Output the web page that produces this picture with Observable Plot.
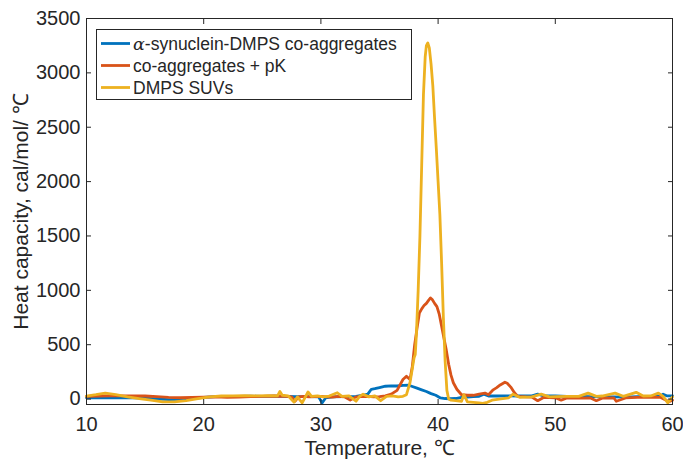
<!DOCTYPE html>
<html>
<head>
<meta charset="utf-8">
<script src="https://cdn.jsdelivr.net/npm/d3@7"></script>
<script src="https://cdn.jsdelivr.net/npm/@observablehq/plot@0.6"></script>
<style>
  html, body { margin: 0; padding: 0; background: #fff; }
  #chart { width: 683px; height: 460px; }
</style>
</head>
<body>
<div id="chart"></div>
<script>
// ---- data ----
const seriesNames = ["\u03b1-synuclein-DMPS co-aggregates", "co-aggregates + pK", "DMPS SUVs"];
const seriesColors = ["#0072BD", "#D95319", "#EDB120"];

const xTicks = [10, 20, 30, 40, 50, 60];
const yTicks = [0, 500, 1000, 1500, 2000, 2500, 3000, 3500];

// alpha-synuclein-DMPS co-aggregates
const blueT = [10, 11, 12, 13, 14, 15, 16, 17, 18, 19, 20, 21, 22, 23, 24, 25, 26, 27, 28, 29, 29.8, 30.1, 30.4, 31, 32, 33, 33.6, 34.0, 34.3, 34.6, 35.0, 35.5, 36, 36.5, 37, 37.5, 37.8, 38.2, 38.6, 39.0, 39.4, 39.8, 40.2, 40.6, 41.0, 41.5, 42.0, 42.5, 43, 43.5, 43.9, 44.3, 45, 46, 47, 48, 48.5, 49, 50, 51, 52, 53, 54, 55, 56, 57, 58, 59, 59.2, 59.5, 60];
const blueCp = [12, 12, 12, 14, 12, 8, 2, -5, -3, 5, 15, 22, 25, 25, 26, 25, 27, 25, 23, 22, 20, -35, 10, 20, 22, 25, 35, 45, 90, 95, 105, 118, 122, 120, 125, 127, 115, 100, 85, 70, 50, 35, 10, 5, 3, 5, 15, 18, 22, 25, 45, 28, 28, 30, 28, 30, 45, 30, 28, 25, 25, 22, 20, 20, 18, 22, 25, 30, 45, 30, 30];

// co-aggregates + pK
const redT = [10, 11, 12, 13, 14, 15, 16, 17, 18, 19, 20, 21, 22, 23, 24, 25, 26, 27, 27.5, 27.8, 28.1, 28.5, 29, 29.5, 30, 30.5, 31, 31.5, 32, 32.5, 33, 33.5, 34, 34.5, 35, 35.5, 36, 36.5, 37.0, 37.3, 37.6, 37.8, 38.0, 38.2, 38.4, 38.6, 38.8, 39.0, 39.2, 39.35, 39.5, 39.7, 39.9, 40.1, 40.3, 40.5, 40.7, 40.9, 41.1, 41.3, 41.6, 42.0, 42.5, 43, 43.5, 44, 44.3, 44.7, 45.0, 45.3, 45.7, 45.9, 46.2, 46.5, 46.8, 47.5, 48, 48.5, 49, 50, 50.5, 51, 52, 53, 53.5, 54, 55, 55.2, 56, 57, 58, 59, 59.7, 60];
const redCp = [25, 28, 30, 30, 30, 28, 22, 15, 12, 15, 18, 20, 15, 18, 22, 25, 28, 25, 20, -20, 20, 25, 20, 22, 25, 20, 18, 25, 20, -10, 20, 22, 25, 20, 22, 30, 45, 80, 180, 210, 180, 300, 500, 650, 790, 830, 860, 880, 910, 930, 915, 880, 850, 780, 670, 560, 450, 320, 220, 150, 90, 40, 35, 35, 45, 55, 40, 85, 105, 130, 155, 145, 110, 60, 25, 20, 18, -15, 15, 12, -10, 10, 8, 10, -15, 8, 10, -20, 10, 15, 18, 15, -25, -10];

// DMPS SUVs
const yellowT = [10, 10.8, 11.6, 12.5, 13.5, 14.5, 15.5, 16.5, 17.5, 18.5, 19.5, 20.5, 21.5, 22.5, 23.5, 24.5, 25.5, 26.3, 26.5, 26.7, 27.2, 27.7, 28.0, 28.4, 28.9, 29.2, 29.7, 30.2, 30.7, 31.4, 31.8, 32.4, 33.0, 33.3, 33.6, 34.1, 34.6, 35.1, 35.6, 36.1, 36.6, 37.0, 37.3, 37.6, 37.8, 37.95, 38.05, 38.15, 38.3, 38.45, 38.6, 38.75, 38.9, 39.0, 39.12, 39.25, 39.4, 39.55, 39.7, 39.85, 40.0, 40.15, 40.3, 40.45, 40.6, 40.75, 40.9, 41.1, 41.5, 42.0, 42.2, 42.5, 43, 43.5, 43.8, 44.2, 44.6, 45.2, 46, 46.4, 47, 47.5, 48, 48.8, 49.5, 50, 51, 52, 52.8, 53.5, 54, 55.1, 55.8, 56.9, 57.5, 58.2, 58.8, 59.2, 59.6, 60];
const yellowCp = [28, 40, 55, 40, 20, 5, -10, -25, -25, -15, 5, 20, 28, 30, 32, 30, 32, 30, 70, 35, 30, -28, 20, -35, 65, 25, 30, 20, 28, 58, 25, 30, -20, 25, 45, 20, 30, -15, 25, 30, 20, 25, 40, 150, 280, 380, 410, 600, 1000, 1500, 2150, 2800, 3150, 3250, 3275, 3230, 3080, 2880, 2580, 2300, 2000, 1700, 1250, 750, 350, 80, 0, -10, -15, -20, 40, -25, -30, -35, -40, -30, -10, 0, 10, 45, 15, 18, 20, 45, 20, 22, 25, 25, 55, 25, 28, 55, 25, 62, 28, 30, 55, 25, -35, 20];

const toRows = (T, V, name) => T.map((t, i) => ({T: t, cp: V[i], series: name}));
const blueRows = toRows(blueT, blueCp, seriesNames[0]);
const redRows = toRows(redT, redCp, seriesNames[1]);
const yellowRows = toRows(yellowT, yellowCp, seriesNames[2]);

const ink = "#262626";
const font = "'Liberation Sans', Arial, Helvetica, sans-serif";
const plain = d => String(d);

const chart = Plot.plot({
  width: 683,
  height: 460,
  marginTop: 18,
  marginRight: 11,
  marginBottom: 56,
  marginLeft: 86,
  style: {fontFamily: font, fontSize: "20px", color: ink, background: "#fff", overflow: "visible"},
  x: {domain: [10, 60], label: null},
  y: {domain: [-50, 3500], label: null},
  marks: [
    Plot.line(blueRows, {x: "T", y: "cp", stroke: seriesColors[0], strokeWidth: 2.8, curve: "linear"}),
    Plot.line(redRows, {x: "T", y: "cp", stroke: seriesColors[1], strokeWidth: 2.8, curve: "linear"}),
    Plot.line(yellowRows, {x: "T", y: "cp", stroke: seriesColors[2], strokeWidth: 2.8, curve: "linear"}),
    Plot.frame({stroke: ink, strokeWidth: 1}),
    Plot.axisX({anchor: "bottom", ticks: xTicks, tickFormat: plain, tickSize: -5, tickPadding: 17.5, label: null, fill: ink}),
    Plot.axisX({anchor: "top", ticks: xTicks, tickSize: -5, tickFormat: () => "", label: null}),
    Plot.axisY({anchor: "left", ticks: yTicks, tickFormat: plain, tickSize: -5, tickPadding: 11, label: null, fill: ink}),
    Plot.axisY({anchor: "right", ticks: yTicks, tickSize: -5, tickFormat: () => "", label: null}),
    Plot.text(["Temperature, \u2103"], {frameAnchor: "bottom", textAnchor: "middle", dy: 50, lineAnchor: "bottom", fontSize: 21, fill: ink}),
    Plot.text(["Heat capacity, cal/mol/ \u2103"], {frameAnchor: "left", textAnchor: "middle", dx: -59, rotate: -90, lineAnchor: "bottom", fontSize: 21, fill: ink})
  ]
});

document.getElementById("chart").appendChild(chart);

// ---- legend (MATLAB style box inside the axes) ----
const svg = d3.select(chart);
const lg = svg.append("g").attr("font-family", font).attr("font-size", 17.5).attr("fill", ink).attr("text-anchor", "start");
lg.append("rect")
  .attr("x", 96.5).attr("y", 29.5).attr("width", 315).attr("height", 70)
  .attr("fill", "#fff").attr("stroke", ink).attr("stroke-width", 1);
const rowsY = [49.5, 71.5, 93.5];
seriesNames.forEach((name, i) => {
  lg.append("line")
    .attr("x1", 101).attr("x2", 130)
    .attr("y1", rowsY[i] - 6).attr("y2", rowsY[i] - 6)
    .attr("stroke", seriesColors[i]).attr("stroke-width", 2.8);
  const t = lg.append("text").attr("x", 133).attr("y", rowsY[i]).attr("text-anchor", "start");
  if (name.startsWith("\u03b1")) {
    t.append("tspan").attr("font-family", "'DejaVu Serif', 'Liberation Serif', serif").attr("font-style", "italic").text("\u03b1");
    t.append("tspan").text(name.slice(1));
  } else {
    t.text(name);
  }
});
</script>
</body>
</html>
